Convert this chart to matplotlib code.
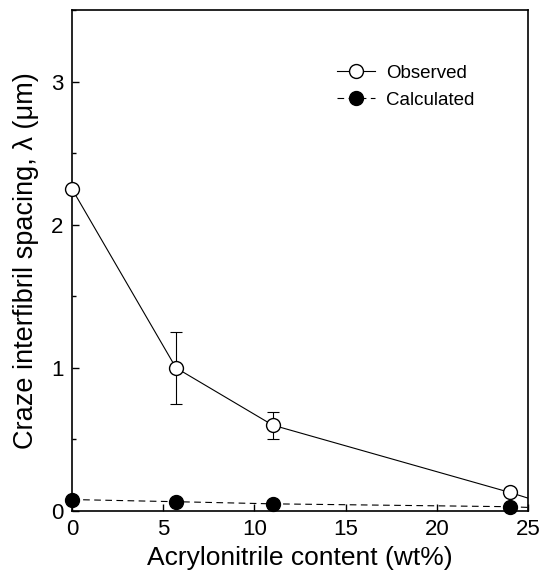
import matplotlib
matplotlib.use("Agg")
import matplotlib.pyplot as plt
from matplotlib.ticker import MultipleLocator

plt.rcParams['font.family'] = ['Liberation Sans', 'DejaVu Sans']

# Data
obs_x = [0, 5.7, 11, 24]
obs_y = [2.25, 1.0, 0.6, 0.13]
obs_err_lo = [0, 0.25, 0.10, 0]
obs_err_hi = [0, 0.25, 0.09, 0]
obs_tail_x = [24, 25]
obs_tail_y = [0.13, 0.09]

calc_x = [0, 5.7, 11, 24]
calc_y = [0.08, 0.065, 0.05, 0.03]
calc_tail_x = [24, 25]
calc_tail_y = [0.03, 0.025]

fig = plt.figure(figsize=(5.46, 5.79), dpi=100)
ax = fig.add_axes([72/546, 1-511/579, (528-72)/546, (511-10)/579])

ax.plot(obs_tail_x, obs_tail_y, '-', color='black', lw=0.8)
ax.plot(calc_tail_x, calc_tail_y, '--', color='black', lw=0.8, dashes=(6, 4))

ax.errorbar(obs_x, obs_y, yerr=[obs_err_lo, obs_err_hi], fmt='none', ecolor='black',
            elinewidth=0.8, capsize=4, capthick=0.8, zorder=2)
h_obs, = ax.plot(obs_x, obs_y, '-o', color='black', mfc='white', mec='black', ms=10,
                 lw=0.8, label='Observed', clip_on=False, zorder=3)
h_calc, = ax.plot(calc_x, calc_y, '--o', color='black', mfc='black', mec='black', ms=10,
                  lw=0.8, dashes=(6, 4), label='Calculated', clip_on=False, zorder=3)

ax.set_xlim(0, 25)
ax.set_ylim(0, 3.5)
ax.xaxis.set_major_locator(MultipleLocator(5))
ax.yaxis.set_major_locator(MultipleLocator(1))
ax.yaxis.set_minor_locator(MultipleLocator(0.5))
ax.tick_params(direction='in', length=5, width=1, labelsize=16, top=False, right=False, pad=6)
ax.tick_params(which='minor', direction='in', length=3, width=1)
for s in ax.spines.values():
    s.set_linewidth(1.2)

ax.set_xlabel('Acrylonitrile content (wt%)', fontsize=19, labelpad=4)
ax.set_ylabel('Craze interfibril spacing, λ (μm)', fontsize=19.5, labelpad=9)

ax.legend(handles=[h_obs, h_calc], loc='upper left', bbox_to_anchor=(0.545, 0.925),
          frameon=False, fontsize=13.5, handlelength=2.0, labelspacing=0.55, handletextpad=0.6)

fig.savefig('out.png', dpi=100)
